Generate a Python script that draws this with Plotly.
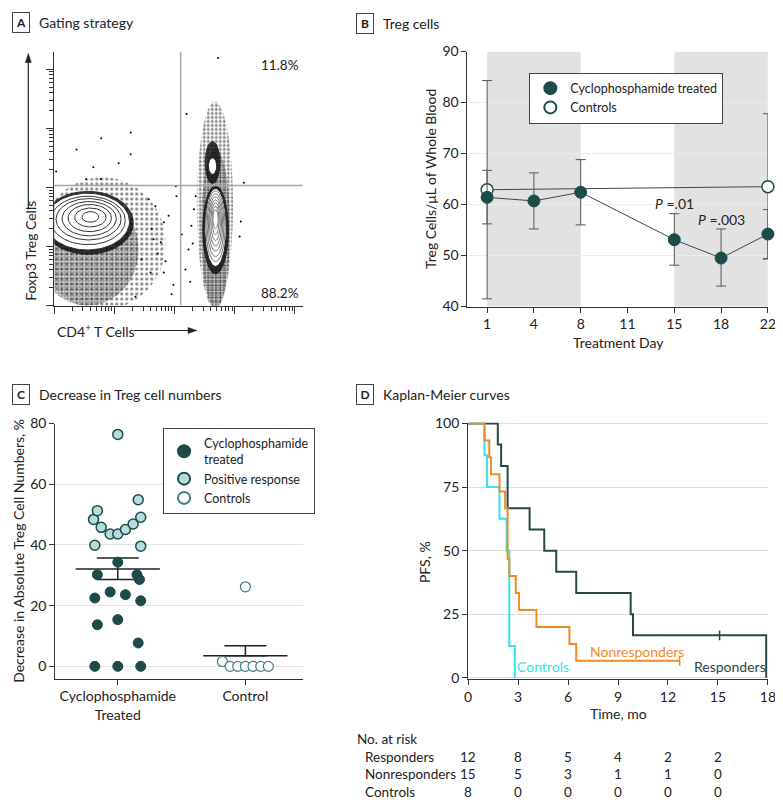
import numpy as np
import plotly.graph_objects as go

W, H = 783, 810
FONT = "Lato"
INK = "#222222"
TEAL = "#1d4b49"

# the page puts the figure a little in from the window edge and slightly smaller,
# so reference pixel positions are mapped through that frame
OX, OY = 8.65, 17.5
SW, SH = 772.5, 793.0


def px(x):
    return (x - OX) / SW


def py(y):
    return 1 - (y - OY) / SH


# ---------------- panel A : gating strategy (axes in log10 units) ----------------
gate_x = 2.1
gate_y = 2.03
pct_upper = "11.8%"
pct_lower = "88.2%"

# stippled event clouds: centre, radii, dot grid size, solidity
cloud_cx = [0.8, 0.55, 2.67, 2.68]
cloud_cy = [1.05, 0.95, 1.7, 1.3]
cloud_rx = [1.05, 0.85, 0.3, 0.24]
cloud_ry = [1.12, 0.95, 1.75, 1.35]
cloud_grid = [5, 3, 4, 2.5]
cloud_solid = [0.3, 0.55, 0.4, 0.65]
# densest events hugging each contour set
core_cx = [0.56, 2.68, 2.63]
core_cy = [1.40, 1.28, 2.42]
core_rx = [0.76, 0.22, 0.13]
core_ry = [0.54, 0.75, 0.36]

# contour rings, CD4- population
left_cx = [0.55, 0.56, 0.57, 0.58, 0.59, 0.60, 0.60]
left_cy = [1.42, 1.44, 1.46, 1.47, 1.48, 1.49, 1.50]
left_rx = [0.70, 0.62, 0.54, 0.45, 0.36, 0.26, 0.14]
left_ry = [0.48, 0.41, 0.35, 0.29, 0.23, 0.16, 0.09]
# contour rings, CD4+ Foxp3- population
right_cx = [2.68, 2.68, 2.68, 2.68, 2.68, 2.68, 2.68, 2.68]
right_cy = [1.32, 1.34, 1.36, 1.38, 1.40, 1.42, 1.44, 1.46]
right_rx = [0.18, 0.16, 0.14, 0.12, 0.10, 0.08, 0.06, 0.045]
right_ry = [0.66, 0.60, 0.53, 0.46, 0.39, 0.32, 0.24, 0.16]
# CD4+ Foxp3+ population
treg_cx, treg_cy, treg_rx, treg_ry = 2.63, 2.36, 0.07, 0.14

# isolated events
stray_x = [0.78, 1.27, 0.37, 0.65, 1.07, 1.27, 0.03, 0.53, 0.77, 2.03, 1.68, 1.82, 1.77,
           1.60, 1.95, 1.35, 2.72, 3.15, 3.10, 3.08, 2.20, 2.02, 1.82, 1.57, 1.45, 1.65,
           2.23, 2.32, 2.18, 1.90, 1.72, 2.28, 2.12, 1.98, 2.35, 1.62, 2.26, 1.85, 2.30]
stray_y = [2.83, 2.93, 2.64, 2.34, 2.41, 2.56, 2.27, 2.14, 2.14, 1.85, 1.68, 1.41, 1.07,
           0.56, 0.19, 0.15, 4.19, 2.08, 1.42, 1.17, 3.24, 2.02, 0.56, 1.80, 0.78, 1.12,
           0.95, 1.63, 0.61, 1.52, 0.88, 1.35, 1.20, 0.35, 1.85, 1.30, 0.40, 0.75, 1.05]

# ---------------- panel B : Treg cells ----------------
days = ["1", "4", "8", "11", "15", "18", "22"]
shaded_spans = [("1", "8"), ("15", "22")]
treated_days = ["1", "4", "8", "15", "18", "22"]
treated_mean = [61.4, 60.7, 62.4, 53.1, 49.5, 54.2]
treated_hi = [66.7, 66.2, 68.8, 58.2, 55.2, 59.0]
treated_lo = [56.2, 55.2, 56.0, 48.1, 44.0, 49.4]
control_days = ["1", "22"]
control_mean = [62.9, 63.5]
control_hi = [84.3, 77.8]
control_lo = [41.5, 49.3]
p_labels = [("15", 60.2, "<i>P</i> =.01"), ("18", 57.0, "<i>P</i> =.003")]

# ---------------- panel C : decrease in Treg numbers ----------------
groups = ["Cyclophosphamide<br>Treated", "Control"]
treated_vals = [0, 0, 0, 7.7, 13.7, 15.4, 22.5, 21.6, 24.5, 23.6, 30.2, 30.2, 28.6, 34.3]
treated_jit = [-0.18, 0.0, 0.18, 0.16, -0.16, 0.0, -0.18, 0.18, -0.06, 0.06, -0.16, 0.15, 0.17, 0.0]
positive_vals = [39.9, 39.6, 48.4, 51.3, 45.8, 43.6, 43.6, 45.1, 46.9, 49.1, 54.9, 76.4]
positive_jit = [-0.18, 0.18, -0.19, -0.16, -0.13, -0.06, 0.0, 0.06, 0.12, 0.18, 0.16, 0.0]
control_vals = [26.2, 1.6, 0, 0, 0, 0, 0, 0]
control_jit = [0.0, -0.18, -0.12, -0.06, 0.0, 0.06, 0.12, 0.18]
group_mean = [32.1, 3.5]
group_sem_up = [3.6, 3.3]
group_sem_down = [3.5, 0.0]

# ---------------- panel D : Kaplan-Meier ----------------
resp_t = [0, 1.78, 1.98, 2.37, 3.69, 4.57, 5.29, 6.49, 9.76, 9.9, 17.9]
resp_s = [100, 91.7, 83.3, 66.7, 58.3, 50, 41.7, 33.3, 25, 16.7, 0]
resp_cens = [15.1]
nonr_t = [0, 0.98, 1.27, 1.37, 1.88, 2.22, 2.37, 2.47, 2.86, 3.06, 4.10, 6.08, 6.49, 12.7]
nonr_s = [100, 93.3, 86.7, 80, 73.3, 66.7, 46.7, 40, 33.3, 26.7, 20, 13.3, 6.7, 6.7]
nonr_cens = [12.7]
ctrl_t = [0, 0.98, 1.14, 1.88, 2.31, 2.47, 2.80]
ctrl_s = [100, 87.5, 75, 62.5, 50, 12.5, 0]
risk_times = [0, 3, 6, 9, 12, 15]
risk_rows = ["Responders", "Nonresponders", "Controls"]
risk_resp = [12, 8, 5, 4, 2, 2]
risk_nonr = [15, 5, 3, 1, 1, 0]
risk_ctrl = [8, 0, 0, 0, 0, 0]

C_RESP = "#284846"
C_NONR = "#f08a24"
C_CTRL = "#33e2ee"

RIGHT_END = 766  # right edge of panels B and D (kept inside the visible window)


def ellipse(cx, cy, rx, ry, n=90):
    t = np.linspace(0, 2 * np.pi, n)
    return cx + rx * np.cos(t), cy + ry * np.sin(t)


fig = go.Figure()

# ---- A ----
for cx, cy, rx, ry, g, s in zip(cloud_cx, cloud_cy, cloud_rx, cloud_ry, cloud_grid, cloud_solid):
    ex, ey = ellipse(cx, cy, rx, ry)
    fig.add_trace(go.Scatter(x=ex, y=ey, mode="none", fill="toself", fillcolor="rgba(0,0,0,0)",
                             fillpattern=dict(shape=".", fgcolor="black", bgcolor="rgba(0,0,0,0)",
                                              size=g, solidity=s),
                             hoverinfo="skip", showlegend=False, xaxis="x", yaxis="y"))
for cx, cy, rx, ry in zip(core_cx, core_cy, core_rx, core_ry):
    ex, ey = ellipse(cx, cy, rx, ry)
    fig.add_trace(go.Scatter(x=ex, y=ey, mode="none", fill="toself", fillcolor="rgba(10,10,10,0.8)",
                             hoverinfo="skip", showlegend=False, xaxis="x", yaxis="y"))
fig.add_trace(go.Scatter(x=stray_x, y=stray_y, mode="markers",
                         marker=dict(size=2, color="black"), showlegend=False,
                         hoverinfo="skip", xaxis="x", yaxis="y"))
for i, (cx, cy, rx, ry) in enumerate(zip(left_cx, left_cy, left_rx, left_ry)):
    ex, ey = ellipse(cx, cy, rx, ry)
    fig.add_trace(go.Scatter(x=ex, y=ey, mode="lines", line=dict(color="#333", width=1),
                             fill="toself" if i == 0 else None, fillcolor="white",
                             hoverinfo="skip", showlegend=False, xaxis="x", yaxis="y"))
for i, (cx, cy, rx, ry) in enumerate(zip(right_cx, right_cy, right_rx, right_ry)):
    ex, ey = ellipse(cx, cy, rx, ry)
    fig.add_trace(go.Scatter(x=ex, y=ey, mode="lines",
                             line=dict(color="#222" if i == 0 else "#777", width=1),
                             fill="toself" if i == 0 else None, fillcolor="white",
                             hoverinfo="skip", showlegend=False, xaxis="x", yaxis="y"))
ex, ey = ellipse(treg_cx, treg_cy, treg_rx, treg_ry)
fig.add_trace(go.Scatter(x=ex, y=ey, mode="lines", line=dict(color="#222", width=1),
                         fill="toself", fillcolor="white", hoverinfo="skip",
                         showlegend=False, xaxis="x", yaxis="y"))

minor_a = [np.log10(k * 10 ** d) for d in range(0, 5) for k in range(2, 10)]

# ---- B ----
bx = {d: i for i, d in enumerate(days)}
fig.add_trace(go.Scatter(x=[bx[d] for d in control_days], y=control_mean, mode="lines",
                         line=dict(color="#444", width=1), showlegend=False,
                         xaxis="x2", yaxis="y2", hoverinfo="skip"))
fig.add_trace(go.Scatter(x=[bx[d] for d in treated_days], y=treated_mean, mode="lines",
                         line=dict(color="#444", width=1), showlegend=False,
                         xaxis="x2", yaxis="y2", hoverinfo="skip"))
fig.add_trace(go.Scatter(
    x=[bx[d] for d in control_days], y=control_mean, mode="markers", name="Controls",
    marker=dict(size=12, color="white", line=dict(color=TEAL, width=1.5)),
    error_y=dict(type="data", symmetric=False,
                 array=[h - m for h, m in zip(control_hi, control_mean)],
                 arrayminus=[m - l for m, l in zip(control_mean, control_lo)],
                 color="#555", thickness=1, width=5),
    cliponaxis=False, xaxis="x2", yaxis="y2", legend="legend", legendrank=2))
fig.add_trace(go.Scatter(
    x=[bx[d] for d in treated_days], y=treated_mean, mode="markers",
    name="Cyclophosphamide treated",
    marker=dict(size=12, color=TEAL, line=dict(color=TEAL, width=1)),
    error_y=dict(type="data", symmetric=False,
                 array=[h - m for h, m in zip(treated_hi, treated_mean)],
                 arrayminus=[m - l for m, l in zip(treated_mean, treated_lo)],
                 color="#555", thickness=1, width=5),
    cliponaxis=False, xaxis="x2", yaxis="y2", legend="legend", legendrank=1))

# ---- C ----
mean_half = 0.33
for gi, (m, su, sd) in enumerate(zip(group_mean, group_sem_up, group_sem_down)):
    c = gi + 1
    fig.add_trace(go.Scatter(x=[c - mean_half, c + mean_half], y=[m, m], mode="lines",
                             line=dict(color="#222", width=1.5), showlegend=False,
                             hoverinfo="skip", xaxis="x3", yaxis="y3"))
    fig.add_trace(go.Scatter(x=[c], y=[m], mode="markers", marker=dict(size=1, opacity=0),
                             error_y=dict(type="data", symmetric=False, array=[su],
                                          arrayminus=[sd], color="#222", thickness=1.5,
                                          width=21),
                             showlegend=False, hoverinfo="skip", xaxis="x3", yaxis="y3"))
fig.add_trace(go.Scatter(x=[1 + j for j in treated_jit], y=treated_vals, mode="markers",
                         name="Cyclophosphamide<br>treated",
                         marker=dict(size=10, color=TEAL, line=dict(color=TEAL, width=1)),
                         cliponaxis=False, xaxis="x3", yaxis="y3", legend="legend2"))
fig.add_trace(go.Scatter(x=[1 + j for j in positive_jit], y=positive_vals, mode="markers",
                         name="Positive response",
                         marker=dict(size=10, color="#b6dcdb", line=dict(color=TEAL, width=1.5)),
                         cliponaxis=False, xaxis="x3", yaxis="y3", legend="legend2"))
fig.add_trace(go.Scatter(x=[2 + j for j in control_jit], y=control_vals, mode="markers",
                         name="Controls",
                         marker=dict(size=10, color="white", line=dict(color="#3f7f7c", width=1.2)),
                         cliponaxis=False, xaxis="x3", yaxis="y3", legend="legend2"))

# ---- D ----
for t, s, col in [(resp_t, resp_s, C_RESP), (ctrl_t, ctrl_s, C_CTRL), (nonr_t, nonr_s, C_NONR)]:
    fig.add_trace(go.Scatter(x=t, y=s, mode="lines", line=dict(color=col, width=2, shape="hv"),
                             showlegend=False, hoverinfo="skip", xaxis="x4", yaxis="y4"))
fig.add_trace(go.Scatter(x=resp_cens, y=[resp_s[-2]] * len(resp_cens), mode="markers",
                         marker=dict(symbol="line-ns", size=7, line=dict(color=C_RESP, width=1.5)),
                         showlegend=False, hoverinfo="skip", xaxis="x4", yaxis="y4"))
fig.add_trace(go.Scatter(x=nonr_cens, y=[nonr_s[-1]] * len(nonr_cens), mode="markers",
                         marker=dict(symbol="line-ns", size=7, line=dict(color=C_NONR, width=1.5)),
                         showlegend=False, hoverinfo="skip", xaxis="x4", yaxis="y4"))

# ---------------- layout ----------------
axis_common = dict(showline=True, linecolor="#333", linewidth=1, ticks="outside",
                   tickcolor="#333", ticklen=5, zeroline=False,
                   tickfont=dict(family=FONT, size=14, color=INK))

shapes = [
    dict(type="line", xref="x", yref="y", x0=gate_x, x1=gate_x, y0=0, y1=4.3,
         line=dict(color="#a6a6a6", width=1.5)),
    dict(type="line", xref="x", yref="y", x0=0, x1=4.13, y0=gate_y, y1=gate_y,
         line=dict(color="#a6a6a6", width=1.5)),
    # axis-name arrows of panel A
    dict(type="line", xref="paper", yref="paper", x0=px(25), x1=px(25), y0=py(210), y1=py(62),
         line=dict(color="#222", width=1.2)),
    dict(type="path", xref="paper", yref="paper",
         path=f"M{px(22)},{py(63)} L{px(25)},{py(54)} L{px(28)},{py(63)} Z",
         fillcolor="#222", line=dict(color="#222", width=0.5)),
    dict(type="line", xref="paper", yref="paper", x0=px(131), x1=px(186), y0=py(331), y1=py(331),
         line=dict(color="#222", width=1.2)),
    dict(type="path", xref="paper", yref="paper",
         path=f"M{px(185)},{py(328)} L{px(194)},{py(331)} L{px(185)},{py(334)} Z",
         fillcolor="#222", line=dict(color="#222", width=0.5)),
]
for a, b in shaded_spans:
    shapes.append(dict(type="rect", xref="x2", yref="y2", x0=bx[a], x1=bx[b], y0=40, y1=90,
                       fillcolor="#e2e2e2", line=dict(width=0), layer="below"))

ann = []


def label(text, x, y, size=14, **kw):
    d = dict(text=text, x=px(x), y=py(y), xref="paper", yref="paper", showarrow=False,
             font=dict(family=FONT, size=size, color=kw.pop("color", INK)))
    d.update(kw)
    ann.append(d)


for letter, lx, ly, title in [("A", 18, 23, "Gating strategy"), ("B", 362, 24, "Treg cells"),
                              ("C", 18, 395, "Decrease in Treg cell numbers"),
                              ("D", 362, 395, "Kaplan-Meier curves")]:
    label("<b>" + letter + "</b>", lx, ly, size=12, bordercolor="#444", borderwidth=1,
          borderpad=2, width=12, xanchor="center", yanchor="middle")
    label(title, lx + 16, ly, size=14, xanchor="left", yanchor="middle")

# panel A text
ann.append(dict(text=pct_upper, x=4.1, y=4.07, xref="x", yref="y", showarrow=False,
                xanchor="right", font=dict(family=FONT, size=13.5, color=INK)))
ann.append(dict(text=pct_lower, x=4.1, y=0.22, xref="x", yref="y", showarrow=False,
                xanchor="right", font=dict(family=FONT, size=13.5, color=INK)))
label("Foxp3 Treg Cells", 27, 303, size=14, textangle=-90, xanchor="center", yanchor="bottom")
label("CD4<sup>+</sup> T Cells", 52, 331, size=14, xanchor="left", yanchor="middle")

# panel B text
label("Treg Cells/μL of Whole Blood", 428, 180, size=14, textangle=-90,
      xanchor="center", yanchor="middle")
label("Treatment Day", 616, 343, size=14, xanchor="center", yanchor="middle")
for d, yv, txt in p_labels:
    ann.append(dict(text=txt, x=bx[d], y=yv, xref="x2", yref="y2", showarrow=False,
                    font=dict(family=FONT, size=14, color=INK)))

# panel C text
label("Decrease in Absolute Treg Cell Numbers, %", 15, 551, size=14, textangle=-90,
      xanchor="center", yanchor="middle")

# panel D text
label("PFS, %", 422, 563, size=14, textangle=-90, xanchor="center", yanchor="middle")
label("Time, mo", 616, 714, size=14, xanchor="center", yanchor="middle")
for txt, xv, yv, col in [("Nonresponders", 10.14, 10.3, C_NONR), ("Controls", 4.49, 4.4, C_CTRL),
                         ("Responders", 15.7, 4.4, C_RESP)]:
    ann.append(dict(text=txt, x=xv, y=yv, xref="x4", yref="y4", showarrow=False,
                    font=dict(family=FONT, size=14, color=col)))
label("No. at risk", 352, 739, size=13.5, xanchor="left", yanchor="middle")
for ri, (row, vals) in enumerate(zip(risk_rows, [risk_resp, risk_nonr, risk_ctrl])):
    yy = 757 + ri * 17.5
    label(row, 360, yy, size=13.5, xanchor="left", yanchor="middle")
    for t, v in zip(risk_times, vals):
        ann.append(dict(text=str(v), x=t, y=py(yy), xref="x4", yref="paper", showarrow=False,
                        xanchor="center", yanchor="middle",
                        font=dict(family=FONT, size=13.5, color=INK)))

fig.update_layout(
    width=W, height=H, autosize=False, margin=dict(l=0, r=0, t=0, b=0),
    paper_bgcolor="white", plot_bgcolor="white",
    font=dict(family=FONT, size=14, color=INK),
    shapes=shapes, annotations=ann,
    xaxis=dict(axis_common, domain=[px(51), px(300)], range=[0, 4.13], anchor="y",
               tickvals=[0, 1, 2, 3, 4], ticklen=7, showticklabels=False, showgrid=False,
               minor=dict(tickvals=minor_a, ticklen=4, ticks="outside", tickcolor="#333",
                          showgrid=False)),
    yaxis=dict(axis_common, domain=[py(306), py(52)], range=[0, 4.3], anchor="x",
               tickvals=[0, 1, 2, 3, 4], ticklen=7, showticklabels=False, showgrid=False,
               minor=dict(tickvals=minor_a, ticklen=4, ticks="outside", tickcolor="#333",
                          showgrid=False)),
    xaxis2=dict(axis_common, domain=[px(465), px(RIGHT_END)], range=[-0.42, 6], anchor="y2",
                tickvals=list(range(len(days))), ticktext=days, showgrid=False),
    yaxis2=dict(axis_common, domain=[py(307), py(52)], range=[40, 90], anchor="x2",
                tickvals=[40, 50, 60, 70, 80, 90], showgrid=True, gridcolor="#ececec"),
    xaxis3=dict(axis_common, domain=[px(52), px(300)], range=[0.51, 2.45], anchor="y3",
                tickvals=[1, 2], ticktext=groups, showgrid=False),
    yaxis3=dict(axis_common, domain=[py(679), py(424)], range=[-4, 80], anchor="x3",
                tickvals=[0, 20, 40, 60, 80], showgrid=True, gridcolor="#e3e3e3"),
    xaxis4=dict(axis_common, domain=[px(465.7), px(RIGHT_END)], range=[0, 18], anchor="y4",
                tickvals=[0, 3, 6, 9, 12, 15, 18], showgrid=False),
    yaxis4=dict(axis_common, domain=[py(679.3), py(423)], range=[-0.4, 100.4], anchor="x4",
                tickvals=[0, 25, 50, 75, 100], showgrid=True, gridcolor="#dedede"),
    legend=dict(x=px(527), y=py(73), xanchor="left", yanchor="top", bgcolor="white",
                bordercolor="#444", borderwidth=1, font=dict(family=FONT, size=12.5, color=INK),
                itemsizing="constant", traceorder="normal", itemwidth=30),
    legend2=dict(x=px(160), y=py(428), xanchor="left", yanchor="top", bgcolor="white",
                 bordercolor="#444", borderwidth=1, font=dict(family=FONT, size=12.5, color=INK),
                 itemsizing="constant", traceorder="normal", itemwidth=30),
)

fig.write_html("out.html")
